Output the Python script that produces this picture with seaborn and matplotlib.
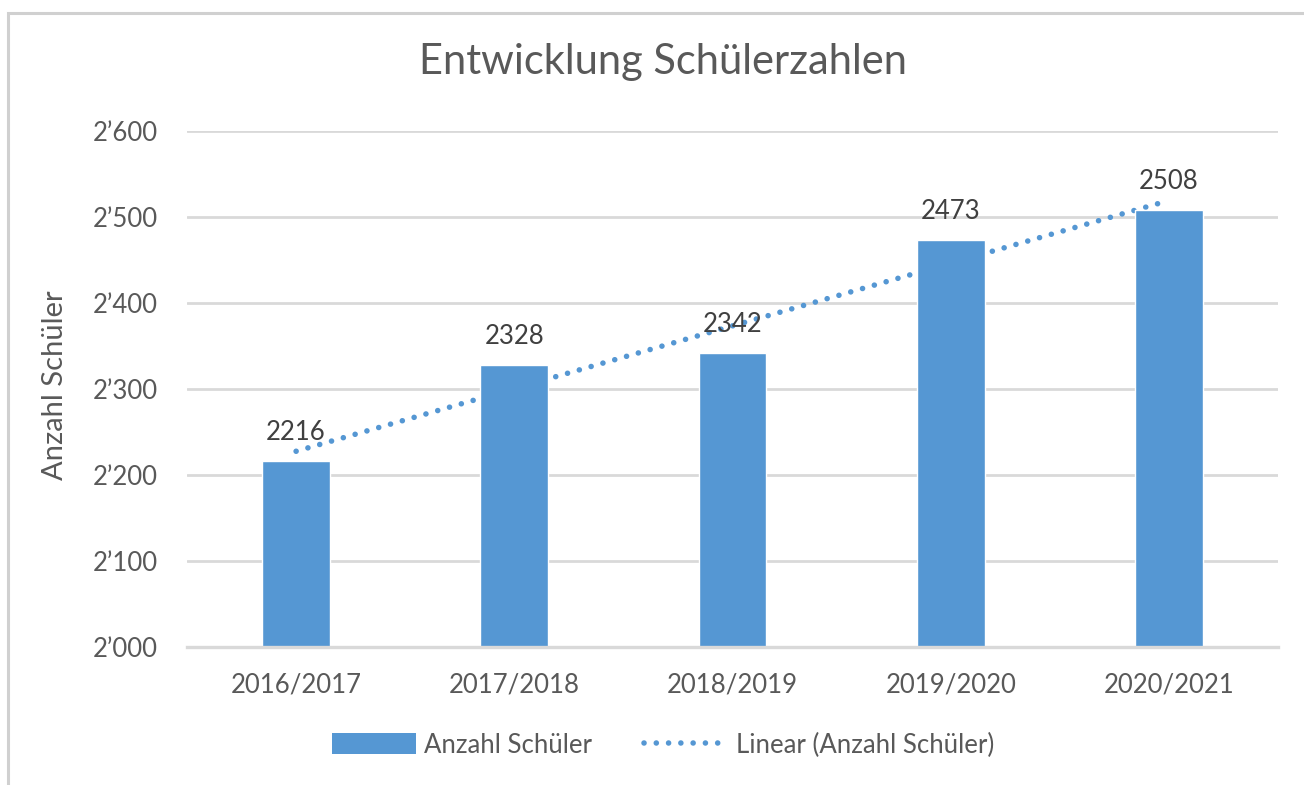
import numpy as np
import pandas as pd
import matplotlib
matplotlib.use("Agg")
import matplotlib.pyplot as plt
import seaborn as sns
from matplotlib.patches import Rectangle, Patch
from matplotlib.lines import Line2D
from matplotlib.ticker import FuncFormatter

categories = ["2016/2017", "2017/2018", "2018/2019", "2019/2020", "2020/2021"]
values = [2216, 2328, 2342, 2473, 2508]
series_name = "Anzahl Schüler"
trend_name = "Linear (Anzahl Schüler)"
title = "Entwicklung Schülerzahlen"
y_ticks = [2000, 2100, 2200, 2300, 2400, 2500, 2600]

sns.set_theme(style="white")
plt.rcParams["font.family"] = ["Lato", "DejaVu Sans"]

BAR = "#5597D3"
TXT = "#595959"
GRID = "#D9D9D9"

df = pd.DataFrame({"Schuljahr": categories, "Anzahl": values})

fig = plt.figure(figsize=(13.04, 7.85), dpi=100)
ax = fig.add_axes([187/1304, 1-647/785, (1278-187)/1304, (647-131)/785])

# outer chart border (left and top visible)
fig.patches.append(Rectangle((8/1304, -0.1), 1.2, 1-13/785+0.1, transform=fig.transFigure,
                             fill=False, edgecolor="#D0D0D0", linewidth=2.2))

sns.barplot(data=df, x="Schuljahr", y="Anzahl", color=BAR, saturation=1, width=0.31,
            ax=ax, zorder=3)

DOTS = dict(color=BAR, linewidth=4.0, linestyle=(0, (0.01, 2.2)), dash_capstyle="round")

xs = np.arange(len(values))
sns.regplot(x=xs, y=np.array(values, dtype=float), ax=ax, scatter=False, ci=None, truncate=True,
            line_kws=dict(zorder=2, **DOTS))

for i, v in enumerate(values):
    ax.text(i, v + 19, str(v), ha="center", va="bottom", fontsize=18.5, color="#404040", zorder=4)

ax.set_ylim(2000, 2600)
ax.set_xlim(-0.5, 4.5)
ax.set_yticks(y_ticks)
ax.yaxis.set_major_formatter(FuncFormatter(lambda v, p: f"{int(v)//1000}\u2019{int(v)%1000:03d}"))
ax.grid(axis="y", color=GRID, linewidth=2)
ax.set_axisbelow(True)
for s in ["top", "right", "left"]:
    ax.spines[s].set_visible(False)
ax.spines["bottom"].set_color(GRID)
ax.spines["bottom"].set_linewidth(2.4)
ax.spines["bottom"].set_zorder(5)
ax.tick_params(axis="y", length=0, pad=21, labelsize=18.5, labelcolor=TXT)
ax.tick_params(axis="x", length=0, pad=18, labelsize=18.5, labelcolor=TXT)
ax.set_xlabel("")
ax.set_ylabel(series_name, fontsize=21, color=TXT)
ax.yaxis.set_label_coords(-0.109, 0.508)

fig.text(663/1304, 1-62/785, title, ha="center", va="center", fontsize=30, color=TXT)

handles = [Patch(facecolor=BAR, edgecolor="none", label=series_name),
           Line2D([0], [0], label=trend_name, **DOTS)]
fig.legend(handles=handles, loc="center", bbox_to_anchor=(663/1304, 1-745/785), ncol=2,
           frameon=False, fontsize=18.5, labelcolor=TXT, handlelength=3.3, handleheight=0.85,
           handletextpad=0.3, columnspacing=2.0)

fig.savefig("out.png", dpi=100)
